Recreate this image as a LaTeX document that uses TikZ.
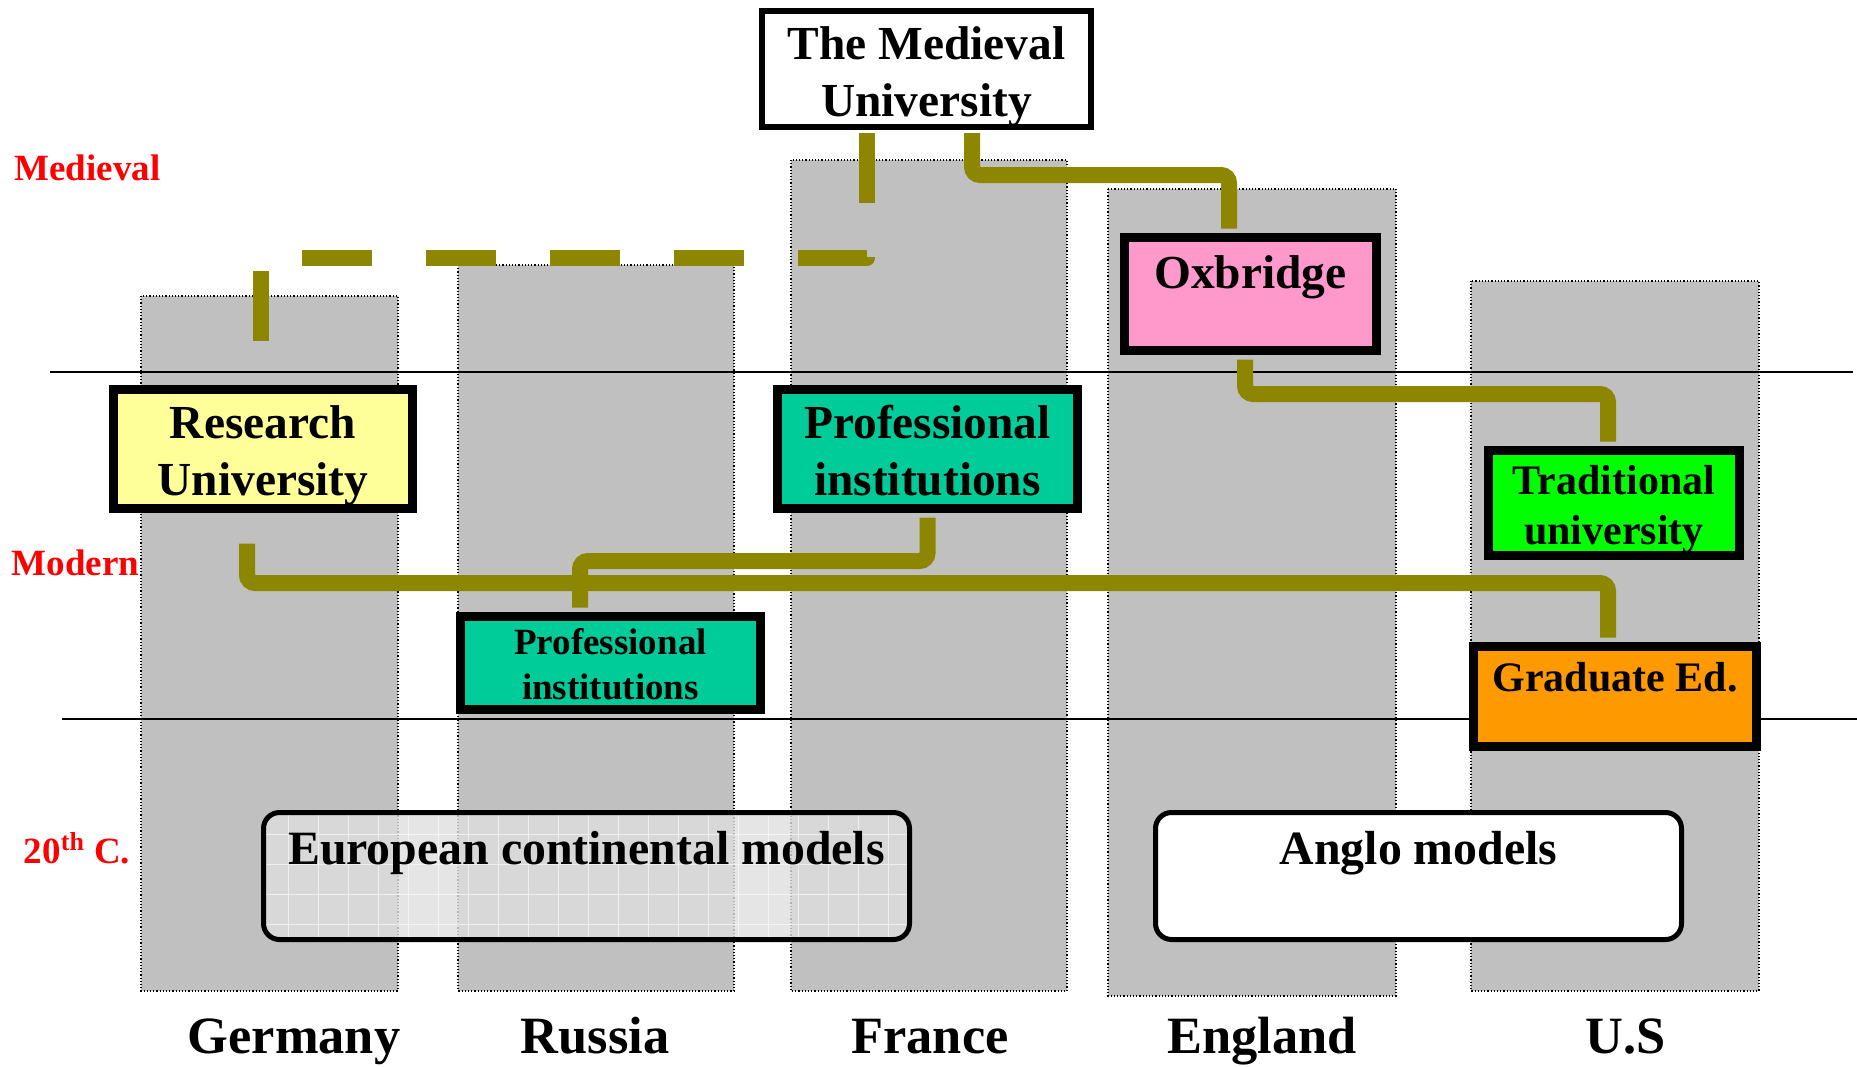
\documentclass[tikz,border=0pt]{standalone}
\usepackage{fontspec}
\setmainfont{Liberation Serif}
\definecolor{colgray}{HTML}{C0C0C0}
\definecolor{resyellow}{HTML}{FFFF99}
\definecolor{proteal}{HTML}{00CC99}
\definecolor{oxpink}{HTML}{FF99CC}
\definecolor{tradgreen}{HTML}{00FF00}
\definecolor{gradorange}{HTML}{FF9900}
\begin{document}
\begin{tikzpicture}[x=0.5pt,y=-0.5pt,
    box/.style={draw,line width=4.5pt,inner sep=0pt,align=center,font=\bfseries\fontsize{23.7}{28.5}\selectfont},
    model/.style={draw,line width=2.5pt,rounded corners=8pt,inner sep=0pt,minimum height=63.5pt,
      text height=25.75pt,text depth=37.75pt,font=\bfseries\fontsize{23.9}{28}\selectfont},
    link/.style={draw=olive,line width=8pt,rounded corners=4pt,shorten <=2.25pt,shorten >=2.25pt},
    col/.style={fill=colgray,draw=black,line width=0.6pt,densely dotted},
    era/.style={text=red,anchor=base,font=\bfseries\fontsize{18.5}{22}\selectfont},
    country/.style={anchor=base,font=\bfseries\fontsize{26.2}{30}\selectfont}]
      \useasboundingbox (0,0) rectangle (1857,1066);

      \foreach \xa/\ya/\xb/\yb in {141/296/398/991,458/265/734/991,791/160/1067/991,1108/189/1396/996,1471/281/1759/991}
        \draw[col] (\xa,\ya) rectangle (\xb,\yb); %国ごとの帯

      \draw[line width=0.9pt] (50,372)--(1853,372);
      \draw[line width=0.9pt] (62,719)--(1857,719);

      \node[era] (medv) at (87.5,180) {Medieval};
      \node[era] (modn) at (75.5,575) {Modern};
      \node[era] (cent) at (77,863) {20\textsuperscript{th} C.};

      \node[box,fill=white,line width=3pt,minimum width=164.5pt,minimum height=58pt,text height=52.5pt,text depth=5.5pt] (med) at (926.5,69) {The Medieval\\University};
      \node[box,fill=resyellow,minimum width=149.5pt,minimum height=59.5pt,text height=52.75pt,text depth=6.75pt] (res) at (263,449) {Research\\University};
      \node[box,fill=proteal,minimum width=150pt,minimum height=59.5pt,text height=52.75pt,text depth=6.75pt] (pro) at (927.5,449) {Professional\\institutions};
      \node[box,fill=oxpink,minimum width=126pt,minimum height=56.5pt,text height=25.25pt,text depth=31.25pt] (oxb) at (1250.5,294) {Oxbridge};
      \node[box,fill=tradgreen,minimum width=125.5pt,minimum height=52.5pt,text height=46.75pt,text depth=5.75pt,font=\bfseries\fontsize{21}{25}\selectfont] (trad) at (1614,503) {Traditional\\university};
      \node[box,fill=proteal,minimum width=150pt,minimum height=46.5pt,text height=41.25pt,text depth=5.25pt,font=\bfseries\fontsize{18.5}{22.5}\selectfont] (rus) at (610.5,663) {Professional\\institutions};
      \node[box,fill=gradorange,minimum width=141.5pt,minimum height=50pt,text height=22.25pt,text depth=27.75pt,font=\bfseries\fontsize{21}{25}\selectfont] (grad) at (1615,696.5) {Graduate Ed.};

      \node[model,fill=gray!25,fill opacity=0.8,text opacity=1,minimum width=323pt,
        path picture={\draw[white,opacity=0.6,line width=0.5pt] (path picture bounding box.south west) grid[step=15pt] (path picture bounding box.north east);}]
        (eur) at (586.5,876) {European continental models};
      \node[model,fill=white,minimum width=263pt] (ang) at (1418.5,876) {Anglo models};

      \draw[link,shorten <=1.5pt] (med.south -| 972,0)|-(1229,175)--(oxb.north -| 1229,0);
      \draw[link,sharp corners,line join=round,shorten <=1.5pt,dash pattern=on 35pt off 27pt] (med.south -| 867,0)|-(261,258)--(res.north -| 261,0); %点線
      \draw[link] (oxb.south -| 1245,0)|-(1608,394)--(trad.north -| 1608,0);
      \draw[link,shorten <=15.25pt] (res.south -| 247,0)|-(1608,583)--(grad.north -| 1608,0);
      \draw[link] (pro.south)|-(580,561)--(rus.north -| 580,0);

      \foreach \x/\nm/\txt in {294/ger/Germany,595/rusl/Russia,930/fra/France,1262/eng/England,1626/us/U.S}
        \node[country] (\nm) at (\x,1053) {\txt};
\end{tikzpicture}
\end{document}
